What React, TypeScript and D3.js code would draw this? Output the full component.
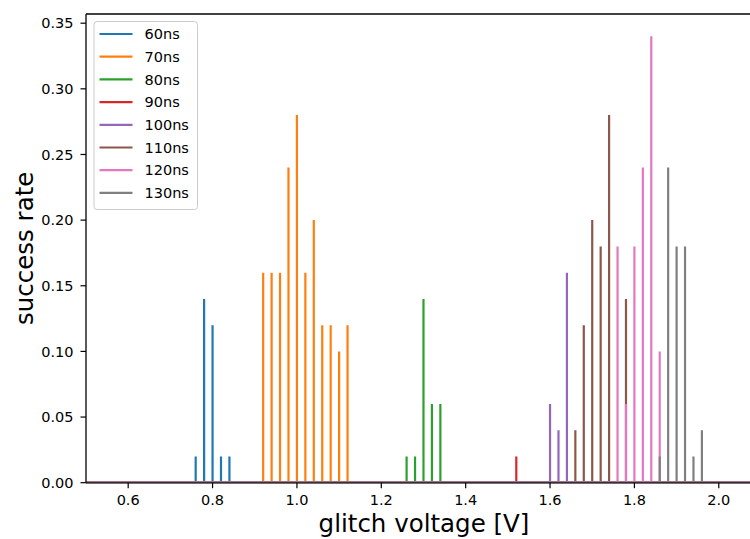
import { useEffect, useRef } from "react";
import * as d3 from "d3";

// pulse widths, one series each
const pulseLabels = ["60ns", "70ns", "80ns", "90ns", "100ns", "110ns", "120ns", "130ns"];
const seriesColors = ["#1f77b4", "#ff7f0e", "#2ca02c", "#d62728", "#9467bd", "#8c564b", "#e377c2", "#7f7f7f"];

// glitch voltages (V) and success rates per series
const volts60 = [0.76, 0.78, 0.80, 0.82, 0.84];
const rates60 = [0.02, 0.14, 0.12, 0.02, 0.02];
const volts70 = [0.92, 0.94, 0.96, 0.98, 1.00, 1.02, 1.04, 1.06, 1.08, 1.10, 1.12];
const rates70 = [0.16, 0.16, 0.16, 0.24, 0.28, 0.16, 0.20, 0.12, 0.12, 0.10, 0.12];
const volts80 = [1.26, 1.28, 1.30, 1.32, 1.34];
const rates80 = [0.02, 0.02, 0.14, 0.06, 0.06];
const volts90 = [1.52];
const rates90 = [0.02];
const volts100 = [1.60, 1.62, 1.64];
const rates100 = [0.06, 0.04, 0.16];
const volts110 = [1.66, 1.68, 1.70, 1.72, 1.74, 1.78];
const rates110 = [0.04, 0.12, 0.20, 0.18, 0.28, 0.14];
const volts120 = [1.76, 1.78, 1.80, 1.82, 1.84, 1.86];
const rates120 = [0.18, 0.06, 0.18, 0.24, 0.34, 0.10];
const volts130 = [1.86, 1.88, 1.90, 1.92, 1.94, 1.96];
const rates130 = [0.02, 0.24, 0.18, 0.18, 0.02, 0.04];

const allVolts = [volts60, volts70, volts80, volts90, volts100, volts110, volts120, volts130];
const allRates = [rates60, rates70, rates80, rates90, rates100, rates110, rates120, rates130];

const xTicks = [0.6, 0.8, 1.0, 1.2, 1.4, 1.6, 1.8, 2.0];
const yTicks = [0, 0.05, 0.1, 0.15, 0.2, 0.25, 0.3, 0.35];

const WIDTH = 750;
const HEIGHT = 539;

function App() {
    const svgRef = useRef<SVGSVGElement>(null);

    useEffect(() => {
        const svgEl = svgRef.current;
        if (!svgEl) return;

        const ml = 86;
        const mt = 14;
        const plotRight = 750;
        const plotBottom = 482.7;
        const font = "DejaVu Sans";

        const xScale = d3.scaleLinear().domain([0.5, 2.074]).range([ml, plotRight]);
        const yScale = d3.scaleLinear().domain([0, 0.357]).range([plotBottom, mt]);

        d3.select(svgEl).selectAll("*").remove();
        const svg = d3.select(svgEl);

        const clip = svg.append("defs").append("clipPath").attr("id", "plot-clip");
        clip.append("rect")
            .attr("x", ml)
            .attr("y", mt)
            .attr("width", plotRight - ml)
            .attr("height", plotBottom - mt + 2);

        const line = d3.line<{ x: number, y: number }>()
            .x(d => xScale(d.x))
            .y(d => yScale(d.y));

        // each series: flat zero line with a spike at every measured voltage
        const plot = svg.append("g").attr("clip-path", "url(#plot-clip)");
        const [x0, x1] = xScale.domain();
        pulseLabels.forEach((label, i) => {
            const pts: { x: number, y: number }[] = [{ x: x0, y: 0 }];
            allVolts[i].forEach((v, j) => {
                pts.push({ x: v, y: 0 }, { x: v, y: allRates[i][j] }, { x: v, y: 0 });
            });
            pts.push({ x: x1, y: 0 });
            plot.append("path")
                .datum(pts)
                .attr("d", line)
                .attr("fill", "none")
                .attr("stroke", seriesColors[i])
                .attr("stroke-width", 2.2)
                .attr("stroke-linejoin", "bevel")
                .attr("class", "series-" + label);
        });

        // spines
        svg.append("line")
            .attr("x1", ml).attr("x2", ml)
            .attr("y1", mt).attr("y2", plotBottom)
            .attr("stroke", "#000").attr("stroke-width", 1.3);
        svg.append("line")
            .attr("x1", ml).attr("x2", plotRight)
            .attr("y1", mt).attr("y2", mt)
            .attr("stroke", "#000").attr("stroke-width", 1.3);
        svg.append("line")
            .attr("x1", ml).attr("x2", plotRight)
            .attr("y1", plotBottom).attr("y2", plotBottom)
            .attr("stroke", "#000").attr("stroke-width", 1.3)
            .attr("stroke-opacity", 0.6);

        // x ticks
        const xg = svg.append("g");
        xg.selectAll("line")
            .data(xTicks)
            .join("line")
            .attr("x1", d => xScale(d))
            .attr("x2", d => xScale(d))
            .attr("y1", plotBottom)
            .attr("y2", plotBottom + 5.5)
            .attr("stroke", "#000")
            .attr("stroke-width", 1.2);
        xg.selectAll("text")
            .data(xTicks)
            .join("text")
            .attr("x", d => xScale(d))
            .attr("y", plotBottom + 22.5)
            .attr("text-anchor", "middle")
            .attr("font-family", font)
            .attr("font-size", "14.5px")
            .attr("fill", "#000")
            .text(d => d3.format(".1f")(d));

        // y ticks
        const yg = svg.append("g");
        yg.selectAll("line")
            .data(yTicks)
            .join("line")
            .attr("x1", ml - 5.5)
            .attr("x2", ml)
            .attr("y1", d => yScale(d))
            .attr("y2", d => yScale(d))
            .attr("stroke", "#000")
            .attr("stroke-width", 1.2);
        yg.selectAll("text")
            .data(yTicks)
            .join("text")
            .attr("x", ml - 12.5)
            .attr("y", d => yScale(d) + 5.2)
            .attr("text-anchor", "end")
            .attr("font-family", font)
            .attr("font-size", "14.5px")
            .attr("fill", "#000")
            .text(d => d3.format(".2f")(d));

        // axis labels
        svg.append("text")
            .attr("x", (ml + plotRight) / 2 + 6)
            .attr("y", 532)
            .attr("text-anchor", "middle")
            .attr("font-family", font)
            .attr("font-size", "24.5px")
            .attr("fill", "#000")
            .text("glitch voltage [V]");
        svg.append("text")
            .attr("transform", `translate(33,${(mt + plotBottom) / 2}) rotate(-90)`)
            .attr("text-anchor", "middle")
            .attr("font-family", font)
            .attr("font-size", "24.5px")
            .attr("fill", "#000")
            .text("success rate");

        // legend
        const lg = svg.append("g");
        lg.append("rect")
            .attr("x", 94)
            .attr("y", 21.5)
            .attr("width", 103.5)
            .attr("height", 188)
            .attr("rx", 3)
            .attr("fill", "#fff")
            .attr("fill-opacity", 0.8)
            .attr("stroke", "#ccc")
            .attr("stroke-width", 1);
        pulseLabels.forEach((label, i) => {
            const y = 34 + i * 22.7;
            lg.append("line")
                .attr("x1", 99.5)
                .attr("x2", 132.5)
                .attr("y1", y)
                .attr("y2", y)
                .attr("stroke", seriesColors[i])
                .attr("stroke-width", 2.2);
            lg.append("text")
                .attr("x", 144.5)
                .attr("y", y + 5.2)
                .attr("font-family", font)
                .attr("font-size", "14.5px")
                .attr("fill", "#000")
                .text(label);
        });
    }, []);

    return (
        <svg
            ref={svgRef}
            width={WIDTH}
            height={HEIGHT}
            style={{ position: "absolute", left: 0, top: 0, background: "#fff" }}
        />
    );
}

export default App;
